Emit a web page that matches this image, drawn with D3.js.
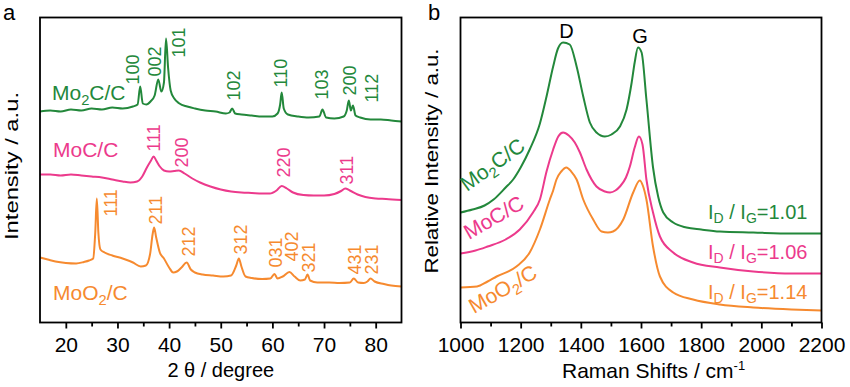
<!DOCTYPE html>
<html>
<head>
<meta charset="utf-8">
<script src="https://cdn.jsdelivr.net/npm/d3@7"></script>
<style>
  body { margin: 0; background: #fff; }
  svg { display: block; font-family: "Liberation Sans", Arial, sans-serif; }
</style>
</head>
<body>
<svg id="chart" width="850" height="387"></svg>
<script>
/*
  XRD (a) and Raman (b) panels
*/

// XRD patterns: [2theta, intensity a.u.]
var xrdMo2C = [[15,211],[17,212],[19,211],[21,213],[23,212],[25,214],[27,213],[29,215],[31,214],[33,216],[33.9,218],[34.4,236],[34.9,219],[35.6,218],[36.4,221],[37.2,227],[37.9,243],[38.5,231],[39.0,240],[39.4,284],[39.8,255],[40.3,232],[41,224],[42,219],[43.5,216],[45,214],[47,212],[49,211],[51,209],[51.7,210],[52.2,214],[52.8,209],[54,208],[56,207],[58,206],[60,206],[61.0,209],[61.5,218],[61.8,230],[62.2,214],[63,208],[65,206],[67,205],[69.1,206],[69.7,213],[70.4,205],[72,204],[73.8,206],[74.4,212],[74.8,222],[75.2,212],[75.6,217],[76.1,207],[77,205],[79,203],[81,203],[83,202],[85,201]];
var xrdMoC = [[15,148],[17,148],[19,147],[21,148],[23,147],[25,146],[27,145],[29,143],[31,141],[32.5,140],[33.8,141],[34.8,146],[35.7,155],[36.5,162],[37.0,166],[37.5,162],[38.2,156],[39,152],[40,151],[41,151.5],[41.9,152],[43,149],[44.5,144],[46,140],[48,136],[50,133],[52,131],[54,130],[56,129.5],[58,129],[59.5,129],[60.8,132],[61.8,136.5],[62.8,134],[64,130],[66,127.5],[68,127],[70,127],[72,128.5],[73.3,131.5],[74.1,134],[75,132],[76.5,128],[78,125.5],[80,124],[82,123.5],[85,122.5]];
var xrdMoO2 = [[15,65],[16.5,63],[18,61],[20,59.5],[22,59],[23.5,60.5],[24.5,62],[25.3,64],[25.7,90],[26.0,124],[26.3,90],[26.7,73],[27.5,70],[29,67],[31,64],[33,60],[34.5,56],[35.5,57],[36.3,68],[36.8,88],[37.1,95],[37.5,85],[38.2,70],[39,64],[40,55],[40.8,50],[41.5,51],[42.4,55],[43.4,60],[44.2,53],[45,50],[46.5,48],[48.5,47],[50.5,46],[52,47],[53,57],[53.5,64],[54,56],[54.8,46],[56,44.5],[58,43.5],[59.6,44],[60.4,48.5],[61,44],[62,46],[63.3,50.5],[64.3,46],[65.4,42],[66.3,43],[66.8,48],[67.3,42],[68.7,40],[71,40],[73,39.5],[75,40],[75.75,44],[76.6,40],[77.7,39.5],[78.4,41],[79.0,44],[79.8,41],[81.6,38.5],[83,37],[85,36]];

// hkl labels: [text, 2theta, intensity where label starts]
var hklMo2C = [["100",34.2,238],["002",38.5,246],["101",43.1,265],["102",53.8,222],["110",62.9,235],["103",70.8,223],["200",76.1,227],["112",80.5,220]];
var hklMoC = [["111",38.3,171],["200",43.7,155],["220",63.5,145],["311",75.7,138]];
var hklMoO2 = [["111",29.9,106],["211",38.7,98],["212",45.1,66],["312",55.1,68],["031",61.9,55],["402",65.0,61],["321",68.3,50],["431",77.1,48],["231",80.5,48]];

// Raman spectra: [shift cm-1, intensity a.u.]
var ramanMo2C = [[1000,110],[1040,113],[1080,117],[1110,123],[1150,135],[1175,143],[1200,155],[1230,173],[1264,199],[1286,226],[1308,256],[1324,274],[1341,280],[1363,278],[1386,256],[1408,226],[1430,200],[1452,190],[1480,186],[1502,188],[1530,196],[1552,213],[1569,240],[1579,260],[1590,275],[1602,270],[1618,223],[1640,155],[1657,126],[1674,110],[1707,100],[1751,95],[1800,93],[1862,91],[1973,90],[2100,89],[2200,89]];
var ramanMoC = [[1000,69],[1050,72],[1090,76],[1150,83],[1197,93],[1241,110],[1264,123],[1286,151],[1308,173],[1325,186],[1341,190],[1360,187],[1380,180],[1397,170],[1419,153],[1452,136],[1480,131],[1497,130],[1515,132],[1530,136],[1550,145],[1563,156],[1579,175],[1593,186],[1605,178],[1618,143],[1640,110],[1663,86],[1707,70],[1773,60],[1862,55],[1973,51],[2100,49],[2200,49]];
var ramanMoO2 = [[1000,35],[1055,36],[1090,41],[1120,46],[1186,56],[1230,70],[1264,93],[1297,123],[1308,132],[1319,143],[1335,151],[1352,155],[1368,151],[1386,143],[1408,123],[1441,103],[1469,91],[1490,90],[1507,91],[1541,103],[1574,130],[1596,142],[1606,137],[1618,123],[1640,76],[1663,46],[1707,30],[1773,23],[1862,18],[1973,15],[2100,13],[2200,12]];

var ratios = ["1.01", "1.06", "1.14"];

var xrdTicks = [20, 30, 40, 50, 60, 70, 80],
    xrdMinorTicks = [25, 35, 45, 55, 65, 75],
    ramanTicks = [1000, 1200, 1400, 1600, 1800, 2000, 2200],
    ramanMinorTicks = [1100, 1300, 1500, 1700, 1900, 2100];

var green = "#23883b", pink = "#ec3a8c", orange = "#f68a2f";

var plotTop = 17.5, plotBottom = 322.5,
    svg = d3.select("#chart");

var xA = d3.scaleLinear().domain([15, 85]).range([40, 401.5]),
    xB = d3.scaleLinear().domain([1000, 2200]).range([460.5, 821.5]),
    y = d3.scaleLinear().domain([0, 305]).range([plotBottom, plotTop]);

function drawCurve(x, data, color){
  var line = d3.line()
    .x(function(d) { return x(d[0]); })
    .y(function(d) { return y(d[1]); })
    .curve(d3.curveMonotoneX);
  svg.append("path")
    .datum(data)
    .attr("d", line)
    .attr("fill", "none")
    .attr("stroke", color)
    .attr("stroke-width", 2)
    .attr("stroke-linejoin", "round");
}

function drawAxis(x, major, minor){
  var r = x.range();
  svg.append("g")
    .attr("transform", "translate(0," + plotBottom + ")")
    .call(d3.axisBottom(x).tickValues(major).tickSize(6).tickPadding(9).tickFormat(d3.format("d")))
    .call(function(g){
      g.select(".domain").remove();
      g.selectAll("line").attr("stroke-width", 1.8);
      g.selectAll("text").attr("font-size", 21).attr("font-family", "Liberation Sans, Arial, sans-serif");
    });
  svg.append("g")
    .attr("transform", "translate(0," + plotBottom + ")")
    .call(d3.axisBottom(x).tickValues(minor).tickSize(4).tickFormat(""))
    .call(function(g){
      g.select(".domain").remove();
      g.selectAll("line").attr("stroke-width", 1.8);
    });
  svg.append("rect")
    .attr("x", r[0]).attr("y", plotTop)
    .attr("width", r[1] - r[0]).attr("height", plotBottom - plotTop)
    .attr("fill", "none").attr("stroke", "#000").attr("stroke-width", 1.8);
}

function hklLabels(list, color){
  svg.selectAll(null)
    .data(list)
    .enter().append("text")
      .attr("transform", function(d){ return "translate(" + xA(d[1]) + "," + y(d[2]) + ") rotate(-90)"; })
      .attr("fill", color)
      .attr("font-size", 18)
      .text(function(d){ return d[0]; });
}

// subscripted sample names
function sampleName(t, parts, color){
  t.attr("fill", color);
  parts.forEach(function(p){
    var s = t.append("tspan").text(p[0]);
    if(p[1]) s.attr("font-size", "70%").attr("dy", 5);
    else if(p[2]) s.attr("dy", -5);
  });
}

/* panel a */
drawCurve(xA, xrdMo2C, green);
drawCurve(xA, xrdMoC, pink);
drawCurve(xA, xrdMoO2, orange);
hklLabels(hklMo2C, green);
hklLabels(hklMoC, pink);
hklLabels(hklMoO2, orange);
drawAxis(xA, xrdTicks, xrdMinorTicks);

sampleName(svg.append("text").attr("x", 52).attr("y", 100).attr("font-size", 21),
  [["Mo"], ["2", true], ["C/C", false, true]], green);
svg.append("text").attr("x", 53).attr("y", 157).attr("font-size", 21).attr("fill", pink).text("MoC/C");
sampleName(svg.append("text").attr("x", 53).attr("y", 300).attr("font-size", 21),
  [["MoO"], ["2", true], ["/C", false, true]], orange);

svg.append("text")
  .attr("x", (xA.range()[0] + xA.range()[1]) / 2).attr("y", 377)
  .attr("text-anchor", "middle").attr("font-size", 20)
  .text("2 \u03b8 / degree");

svg.append("text")
  .attr("transform", "translate(18,166) rotate(-90)")
  .attr("text-anchor", "middle").attr("font-size", 19)
  .attr("textLength", 148).attr("lengthAdjust", "spacingAndGlyphs")
  .text("Intensity / a.u.");

svg.append("text").attr("x", 3).attr("y", 20).attr("font-size", 22).text("a");

/* panel b */
drawCurve(xB, ramanMo2C, green);
drawCurve(xB, ramanMoC, pink);
drawCurve(xB, ramanMoO2, orange);
drawAxis(xB, ramanTicks, ramanMinorTicks);

svg.append("text").attr("x", xB(1352)).attr("y", 38).attr("text-anchor", "middle").attr("font-size", 20).text("D");
svg.append("text").attr("x", xB(1597)).attr("y", 42.5).attr("text-anchor", "middle").attr("font-size", 20).text("G");

sampleName(svg.append("text").attr("font-size", 21).attr("transform", "translate(467,192) rotate(-36)"),
  [["Mo"], ["2", true], ["C/C", false, true]], green);
svg.append("text").attr("font-size", 21).attr("transform", "translate(469,240) rotate(-30)")
  .attr("fill", pink).text("MoC/C");
sampleName(svg.append("text").attr("font-size", 21).attr("transform", "translate(474,314) rotate(-30)"),
  [["MoO"], ["2", true], ["/C", false, true]], orange);

[green, pink, orange].forEach(function(c, i){
  var t = svg.append("text")
    .attr("x", 708).attr("y", 218.5 + i * 40)
    .attr("font-size", 20).attr("fill", c);
  t.append("tspan").text("I");
  t.append("tspan").text("D").attr("font-size", 14).attr("dy", 4);
  t.append("tspan").text(" / I").attr("dy", -4);
  t.append("tspan").text("G").attr("font-size", 14).attr("dy", 4);
  t.append("tspan").text("=" + ratios[i]).attr("dy", -4);
});

var xt = svg.append("text")
  .attr("x", 562).attr("y", 378).attr("font-size", 21);
xt.append("tspan").text("Raman Shifts / cm");
xt.append("tspan").text("-1").attr("font-size", 13).attr("dy", -8);

svg.append("text")
  .attr("transform", "translate(438,161) rotate(-90)")
  .attr("text-anchor", "middle").attr("font-size", 19)
  .attr("textLength", 225).attr("lengthAdjust", "spacingAndGlyphs")
  .text("Relative Intensity / a.u.");

svg.append("text").attr("x", 428).attr("y", 20).attr("font-size", 22).text("b");
</script>
</body>
</html>
